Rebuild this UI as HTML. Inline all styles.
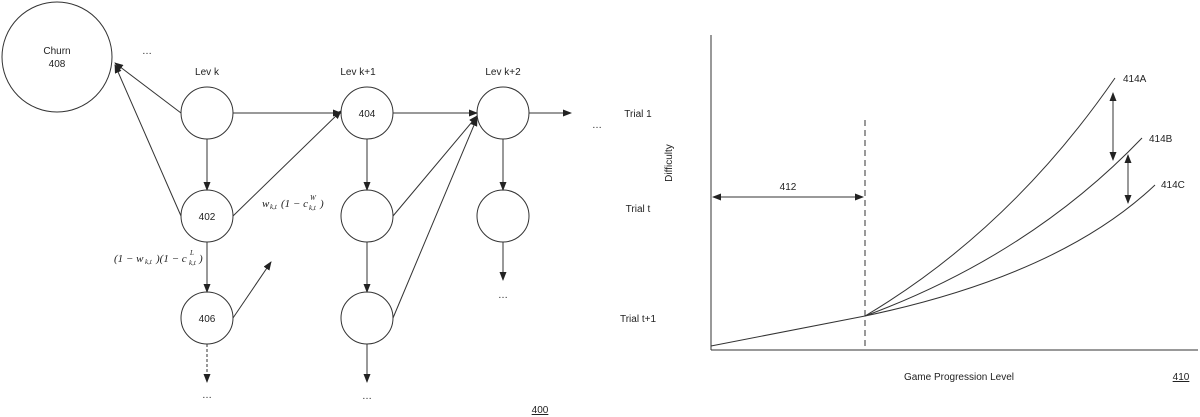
<!DOCTYPE html>
<html><head><meta charset="utf-8"><style>
html,body{margin:0;padding:0;background:#fff;}
svg{display:block;}
text{font-family:"Liberation Sans",sans-serif;font-size:10px;fill:#222;}
.m{font-family:"Liberation Serif",serif;font-style:italic;font-size:11px;}
.s{font-family:"Liberation Serif",serif;font-style:italic;font-size:7px;}
</style></head><body>
<svg width="1200" height="417" viewBox="0 0 1200 417" xmlns="http://www.w3.org/2000/svg">
<defs>
<marker id="a" markerWidth="9" markerHeight="7" refX="8" refY="3.5" orient="auto" markerUnits="userSpaceOnUse"><path d="M0,0 L9,3.5 L0,7 Z" fill="#222"/></marker>
<marker id="b" markerWidth="9" markerHeight="7" refX="8" refY="3.5" orient="auto-start-reverse" markerUnits="userSpaceOnUse"><path d="M0,0 L9,3.5 L0,7 Z" fill="#222"/></marker>
</defs>
<g stroke="#333" stroke-width="1" fill="none">
<circle cx="57" cy="57" r="55"/>
<circle cx="207" cy="113" r="26"/>
<circle cx="207" cy="216" r="26"/>
<circle cx="207" cy="318" r="26"/>
<circle cx="367" cy="113" r="26"/>
<circle cx="367" cy="216" r="26"/>
<circle cx="367" cy="318" r="26"/>
<circle cx="503" cy="113" r="26"/>
<circle cx="503" cy="216" r="26"/>
</g>
<g stroke="#333" stroke-width="1" fill="none" marker-end="url(#a)">
<line x1="181" y1="113" x2="115" y2="63"/>
<line x1="181" y1="216" x2="115" y2="65"/>
<line x1="233" y1="113" x2="341" y2="113"/>
<line x1="233" y1="216" x2="341" y2="111"/>
<line x1="393" y1="113" x2="477" y2="113"/>
<line x1="393" y1="216" x2="477" y2="116"/>
<line x1="393" y1="318" x2="477" y2="118"/>
<line x1="529" y1="113" x2="571" y2="113"/>
<line x1="233" y1="318" x2="271" y2="262"/>
<line x1="207" y1="139" x2="207" y2="190"/>
<line x1="207" y1="242" x2="207" y2="292"/>
<line x1="207" y1="344" x2="207" y2="382" stroke-dasharray="3,2"/>
<line x1="367" y1="139" x2="367" y2="190"/>
<line x1="367" y1="242" x2="367" y2="292"/>
<line x1="367" y1="344" x2="367" y2="382"/>
<line x1="503" y1="139" x2="503" y2="190"/>
<line x1="503" y1="242" x2="503" y2="280"/>
</g>
<text x="57" y="54" text-anchor="middle">Churn</text>
<text x="57" y="67" text-anchor="middle">408</text>
<text x="147" y="54" text-anchor="middle">…</text>
<text x="207" y="75" text-anchor="middle">Lev k</text>
<text x="358" y="75" text-anchor="middle">Lev k+1</text>
<text x="503" y="75" text-anchor="middle">Lev k+2</text>
<text x="207" y="220" text-anchor="middle">402</text>
<text x="367" y="117" text-anchor="middle">404</text>
<text x="207" y="322" text-anchor="middle">406</text>
<text x="597" y="128" text-anchor="middle">…</text>
<text x="207" y="398" text-anchor="middle">…</text>
<text x="367" y="399" text-anchor="middle">…</text>
<text x="503" y="298" text-anchor="middle">…</text>
<text class="m" x="262" y="207">w</text><text class="s" x="270" y="209">k,t</text>
<text class="m" x="281" y="207">(1 − c</text><text class="s" x="309" y="210">k,t</text><text class="s" x="310" y="200">W</text><text class="m" x="320" y="207">)</text>
<text class="m" x="114" y="262">(1 − w</text><text class="s" x="145" y="264">k,t</text><text class="m" x="156" y="262">)(1 − c</text><text class="s" x="189" y="265">k,t</text><text class="s" x="190" y="255">L</text><text class="m" x="199" y="262">)</text>
<text x="540" y="413" text-anchor="middle" text-decoration="underline">400</text>

<g stroke="#333" stroke-width="1" fill="none">
<line x1="711" y1="35" x2="711" y2="350"/>
<line x1="711" y1="350" x2="1198" y2="350"/>
<line x1="865" y1="120" x2="865" y2="350" stroke-dasharray="6,4"/>
<line x1="711" y1="346" x2="865" y2="316"/>
<path d="M865,316 Q1010,230 1115,78"/>
<path d="M865,316 Q1030,255 1142,138"/>
<path d="M865,316 Q1060,275 1155,185"/>
</g>
<g stroke="#333" stroke-width="1" fill="none" marker-end="url(#b)" marker-start="url(#b)">
<line x1="713" y1="197" x2="863" y2="197"/>
<line x1="1113" y1="93" x2="1113" y2="160"/>
<line x1="1128" y1="155" x2="1128" y2="203"/>
</g>
<text x="638" y="117" text-anchor="middle">Trial 1</text>
<text x="638" y="212" text-anchor="middle">Trial t</text>
<text x="638" y="322" text-anchor="middle">Trial t+1</text>
<text x="672" y="163" text-anchor="middle" transform="rotate(-90 672 163)">Difficulty</text>
<text x="788" y="190" text-anchor="middle">412</text>
<text x="1123" y="82">414A</text>
<text x="1149" y="142">414B</text>
<text x="1161" y="188">414C</text>
<text x="959" y="380" text-anchor="middle">Game Progression Level</text>
<text x="1181" y="380" text-anchor="middle" text-decoration="underline">410</text>
</svg>
</body></html>
